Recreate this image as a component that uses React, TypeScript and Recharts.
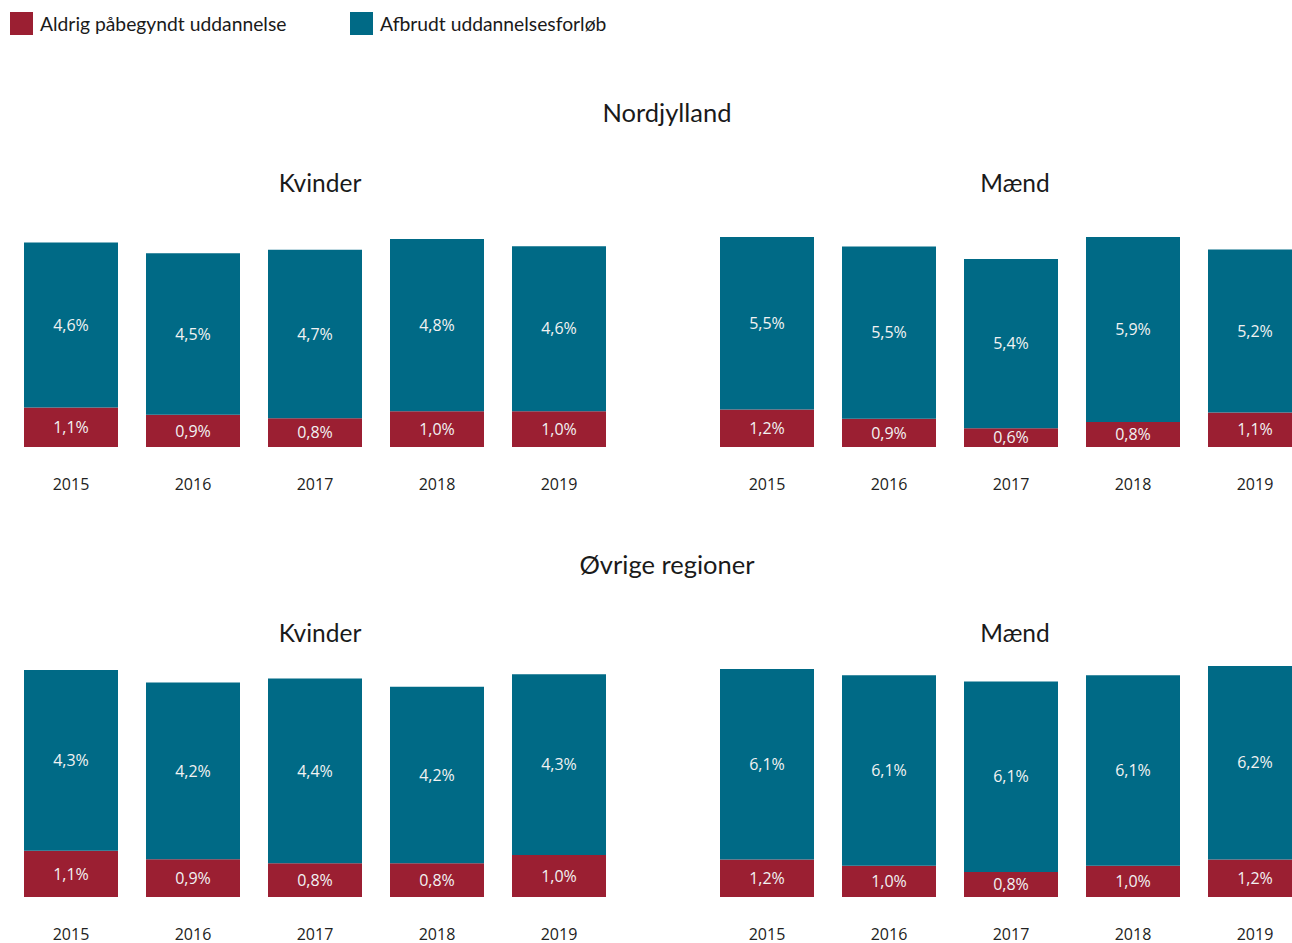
import { BarChart, Bar, XAxis, YAxis, LabelList } from 'recharts'

const years = ['2015', '2016', '2017', '2018', '2019']
const seriesNames = ['Aldrig påbegyndt uddannelse', 'Afbrudt uddannelsesforløb']
const colors = ['#9b1f32', '#006a86']

// Nordjylland
const nordKvinderAldrig = [1.1, 0.9, 0.8, 1.0, 1.0]
const nordKvinderAfbrudt = [4.6, 4.5, 4.7, 4.8, 4.6]
const nordMaendAldrig = [1.2, 0.9, 0.6, 0.8, 1.1]
const nordMaendAfbrudt = [5.5, 5.5, 5.4, 5.9, 5.2]

// Øvrige regioner
const ovrKvinderAldrig = [1.1, 0.9, 0.8, 0.8, 1.0]
const ovrKvinderAfbrudt = [4.3, 4.2, 4.4, 4.2, 4.3]
const ovrMaendAldrig = [1.2, 1.0, 0.8, 1.0, 1.2]
const ovrMaendAfbrudt = [6.1, 6.1, 6.1, 6.1, 6.2]

const FONT = 'Lato, "Open Sans", sans-serif'
const NUM_FONT = '"Open Sans", "DejaVu Sans", sans-serif'

const fmt = (v: any) => Number(v).toFixed(1).replace('.', ',') + '%'

type PanelProps = {
  aldrig: number[]
  afbrudt: number[]
  left: number
  baseline: number
  plotHeight: number
}

const Panel = ({ aldrig, afbrudt, left, baseline, plotHeight }: PanelProps) => {
  const data = years.map((y, i) => ({ year: y, aldrig: aldrig[i], afbrudt: afbrudt[i] }))
  const axisH = 50
  return (
    <div style={{ position: 'absolute', left, top: baseline - plotHeight }}>
      <BarChart
        width={610}
        height={plotHeight + axisH}
        data={data}
        margin={{ top: 0, right: 0, bottom: 0, left: 0 }}
        barCategoryGap={14}
      >
        <XAxis
          dataKey="year"
          axisLine={false}
          tickLine={false}
          tickSize={0}
          tickMargin={32}
          height={axisH}
          interval={0}
          tick={{ fill: '#222', fontSize: 16, fontFamily: NUM_FONT }}
        />
        <YAxis hide domain={[0, 'dataMax']} />
        <Bar dataKey="aldrig" stackId="a" fill={colors[0]} isAnimationActive={false}>
          <LabelList
            dataKey="aldrig"
            position="center"
            formatter={fmt}
            fill="#f2f2f2"
            fontSize={16}
            fontFamily={NUM_FONT}
          />
        </Bar>
        <Bar dataKey="afbrudt" stackId="a" fill={colors[1]} isAnimationActive={false}>
          <LabelList
            dataKey="afbrudt"
            position="center"
            formatter={fmt}
            fill="#f2f2f2"
            fontSize={16}
            fontFamily={NUM_FONT}
          />
        </Bar>
      </BarChart>
    </div>
  )
}

const Title = ({ text, x, y, size }: { text: string; x: number; y: number; size: number }) => (
  <div
    style={{
      position: 'absolute',
      left: x - 200,
      width: 400,
      top: y - size * 0.65,
      textAlign: 'center',
      fontFamily: FONT,
      fontSize: size,
      color: '#1a1a1a',
      lineHeight: 1.3 + '',
    }}
  >
    {text}
  </div>
)

export default function App() {
  return (
    <div
      style={{
        position: 'fixed',
        left: 0,
        top: 0,
        width: 1292,
        height: 943,
        overflow: 'hidden',
        background: '#fff',
      }}
    >
      {seriesNames.map((name, i) => (
        <div
          key={name}
          style={{
            position: 'absolute',
            left: 10 + i * 340,
            top: 12,
            display: 'flex',
            alignItems: 'center',
            fontFamily: FONT,
            fontSize: 19.3,
            color: '#1a1a1a',
          }}
        >
          <span style={{ display: 'inline-block', width: 23, height: 23, background: colors[i], marginRight: 7 }} />
          {name}
        </div>
      ))}

      <Title text="Nordjylland" x={667} y={113} size={25.5} />
      <Title text="Kvinder" x={320} y={183} size={24.5} />
      <Title text="Mænd" x={1015} y={183} size={24.5} />
      <Panel aldrig={nordKvinderAldrig} afbrudt={nordKvinderAfbrudt} left={10} baseline={447} plotHeight={208} />
      <Panel aldrig={nordMaendAldrig} afbrudt={nordMaendAfbrudt} left={706} baseline={447} plotHeight={210} />

      <Title text="Øvrige regioner" x={667} y={565} size={25.5} />
      <Title text="Kvinder" x={320} y={633} size={24.5} />
      <Title text="Mænd" x={1015} y={633} size={24.5} />
      <Panel aldrig={ovrKvinderAldrig} afbrudt={ovrKvinderAfbrudt} left={10} baseline={897} plotHeight={227} />
      <Panel aldrig={ovrMaendAldrig} afbrudt={ovrMaendAfbrudt} left={706} baseline={897} plotHeight={231} />
    </div>
  )
}
